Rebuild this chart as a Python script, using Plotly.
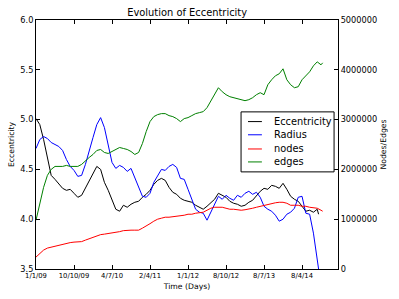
import plotly.graph_objects as go

tick_days = [0, 280, 560, 840, 1120, 1400, 1680, 1960]
tick_labels = ["1/1/09", "10/10/09", "4/7/10", "2/4/11", "1/1/12", "8/10/12", "8/7/13", "8/4/14"]

days_er = list(range(0, 2073, 28)) + [2082]
days_ne = list(range(0, 2101, 28)) + [2112]

eccentricity = [5.01, 4.95, 4.80, 4.62, 4.44, 4.40, 4.36, 4.31, 4.29, 4.30,
                4.26, 4.22, 4.24, 4.31, 4.39, 4.46, 4.53, 4.50, 4.37, 4.29,
                4.19, 4.10, 4.08, 4.14, 4.12, 4.15, 4.17, 4.18, 4.22, 4.25,
                4.29, 4.35, 4.39, 4.41, 4.39, 4.32, 4.27, 4.25, 4.21, 4.19,
                4.18, 4.17, 4.14, 4.12, 4.10, 4.13, 4.17, 4.20, 4.26, 4.24,
                4.22, 4.18, 4.16, 4.15, 4.13, 4.14, 4.17, 4.19, 4.24, 4.28,
                4.31, 4.30, 4.34, 4.33, 4.31, 4.36, 4.30, 4.23, 4.20, 4.18,
                4.13, 4.08, 4.09, 4.07, 4.10, 4.05]

radius = [4.71, 4.80, 4.83, 4.81, 4.77, 4.75, 4.73, 4.69, 4.60, 4.53,
          4.49, 4.43, 4.44, 4.55, 4.70, 4.82, 4.95, 5.02, 4.92, 4.76,
          4.57, 4.51, 4.54, 4.52, 4.48, 4.51, 4.41, 4.31, 4.23, 4.22,
          4.26, 4.37, 4.43, 4.50, 4.49, 4.53, 4.55, 4.52, 4.41, 4.40,
          4.30, 4.20, 4.10, 4.07, 4.06, 3.99, 4.07, 4.14, 4.23, 4.20,
          4.24, 4.21, 4.19, 4.24, 4.22, 4.26, 4.28, 4.25, 4.27, 4.22,
          4.13, 4.10, 4.08, 4.04, 3.98, 4.00, 4.05, 4.07, 4.11, 4.22,
          4.23, 4.06, 4.05, 3.86, 3.62, 3.50]

nodes = [240000, 320000, 380000, 420000, 440000, 460000, 480000, 500000, 520000, 530000,
         540000, 540000, 550000, 580000, 610000, 640000, 670000, 690000, 700000, 710000,
         720000, 740000, 750000, 770000, 780000, 780000, 780000, 780000, 820000, 860000,
         910000, 960000, 1000000, 1020000, 1040000, 1040000, 1050000, 1060000, 1060000, 1080000,
         1100000, 1100000, 1120000, 1130000, 1140000, 1180000, 1220000, 1240000, 1240000, 1240000,
         1220000, 1200000, 1200000, 1190000, 1180000, 1190000, 1200000, 1220000, 1240000, 1260000,
         1280000, 1300000, 1310000, 1330000, 1340000, 1340000, 1320000, 1280000, 1280000, 1280000,
         1260000, 1260000, 1240000, 1230000, 1220000, 1180000, 1160000]

edges = [980000, 1340000, 1640000, 1880000, 2000000, 2060000, 2060000, 2060000, 2080000, 2060000,
         2060000, 2060000, 2100000, 2180000, 2240000, 2300000, 2380000, 2400000, 2340000, 2320000,
         2360000, 2400000, 2440000, 2420000, 2400000, 2360000, 2300000, 2340000, 2520000, 2760000,
         2960000, 3060000, 3100000, 3120000, 3120000, 3080000, 3060000, 3020000, 2960000, 3020000,
         3040000, 3080000, 3120000, 3140000, 3160000, 3240000, 3380000, 3520000, 3640000, 3560000,
         3500000, 3460000, 3440000, 3420000, 3400000, 3380000, 3400000, 3440000, 3500000, 3540000,
         3500000, 3700000, 3800000, 3880000, 3920000, 4020000, 3800000, 3700000, 3640000, 3660000,
         3800000, 3880000, 3960000, 4080000, 4160000, 4100000, 4140000]

right_ticks = [0, 1000000, 2000000, 3000000, 4000000, 5000000]

series_names = ["Eccentricity", "Radius", "nodes", "edges"]
series_colors = ["black", "blue", "red", "green"]

FONT = "DejaVu Sans"

fig = go.Figure()
fig.add_trace(go.Scatter(x=days_er, y=eccentricity, name=series_names[0], mode="lines",
                         line=dict(color=series_colors[0], width=1)))
fig.add_trace(go.Scatter(x=days_er, y=radius, name=series_names[1], mode="lines",
                         line=dict(color=series_colors[1], width=1)))
fig.add_trace(go.Scatter(x=days_ne, y=nodes, name=series_names[2], mode="lines", yaxis="y2",
                         line=dict(color=series_colors[2], width=1)))
fig.add_trace(go.Scatter(x=days_ne, y=edges, name=series_names[3], mode="lines", yaxis="y2",
                         line=dict(color=series_colors[3], width=1)))

# custom legend (matplotlib-like compact box)
shapes = [dict(type="rect", xref="paper", yref="paper", x0=0.679, x1=0.987,
               y0=0.390, y1=0.631, line=dict(color="black", width=1),
               fillcolor="white", layer="above")]
annotations = []
item_y = [0.592, 0.539, 0.482, 0.430]
for name, color, yy in zip(series_names, series_colors, item_y):
    shapes.append(dict(type="line", xref="paper", yref="paper", x0=0.702, x1=0.748,
                       y0=yy, y1=yy, line=dict(color=color, width=1), layer="above"))
    annotations.append(dict(text=name, xref="paper", yref="paper", x=0.783, y=yy,
                            xanchor="left", yanchor="middle", showarrow=False,
                            font=dict(size=9.8, family=FONT, color="black")))

fig.update_layout(
    width=399, height=299,
    margin=dict(l=36, r=61, t=20, b=30),
    paper_bgcolor="white", plot_bgcolor="white",
    font=dict(family=FONT, size=8.2, color="black"),
    title=dict(text="Evolution of Eccentricity", x=0.469, xanchor="center",
               y=0.958, yanchor="middle", font=dict(size=9.9, family=FONT)),
    showlegend=False,
    hovermode=False,
    shapes=shapes,
    annotations=annotations,
    xaxis=dict(range=[0, 2225], tickvals=tick_days, ticktext=tick_labels,
               showline=True, linecolor="black", linewidth=1, mirror="ticks",
               ticks="inside", ticklen=4, tickcolor="black", showgrid=False,
               zeroline=False, tickfont=dict(size=6.8), automargin=False,
               title=dict(text="Time (Days)", font=dict(size=7.7), standoff=4)),
    yaxis=dict(range=[3.5, 6.0], dtick=0.5, tickformat=".1f",
               showline=True, linecolor="black", linewidth=1,
               ticks="inside", ticklen=4, tickcolor="black", showgrid=False,
               zeroline=False, tickfont=dict(size=8.2), automargin=False,
               title=dict(text="Eccentricity", font=dict(size=7.7), standoff=4)),
    yaxis2=dict(range=[0, 5000000], tickvals=right_ticks,
                ticktext=[str(v) for v in right_ticks], overlaying="y", side="right",
                showline=True, linecolor="black", linewidth=1,
                ticks="inside", ticklen=4, tickcolor="black", showgrid=False,
                zeroline=False, tickfont=dict(size=8.2), automargin=False,
                title=dict(text="Nodes/Edges", font=dict(size=7.7), standoff=4)),
)

fig.write_html("out.html", config={"displayModeBar": False},
               post_script="document.body.style.margin='0px';")
